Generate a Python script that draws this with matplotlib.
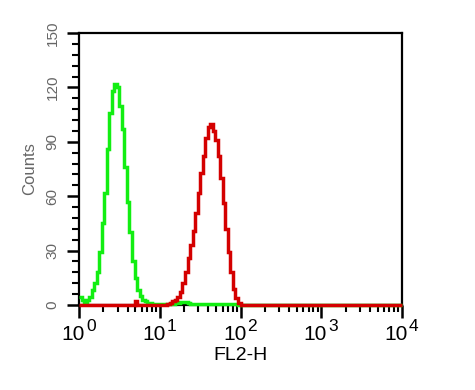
"""
Flow cytometry histogram overlay: isotype control (green) vs stained (red), FL2-H.
"""

import numpy as np
import matplotlib.pyplot as plt
import matplotlib.ticker as mticker

# ---------------------------------------------------------------------------
# Data (128 log channels over 4 decades)
# ---------------------------------------------------------------------------

N_CHANNELS = 128
LOG_RANGE = (0, 4)

green_counts = [
    4.6, 3, 1.8, 3, 4.6, 8, 12, 18, 29, 45,
    62, 86, 106, 118, 122, 120, 110, 97, 76, 57,
    40, 24, 15, 8, 5, 3, 2, 1, 1, 0.8,
    0.8, 0.6, 0.6, 0.6, 0.6, 0.6, 0.8, 0.8, 1, 1.2,
    1.6, 1.6, 1.4, 1, 0.8, 0.8, 0.8, 0.8, 0.8, 0.8,
    0.8, 0.8, 0.8, 0.8, 0.8, 0.8, 0.8, 0.8, 0.8, 0.8,
    0.8, 0.6, 0.4,
]

red_counts = [
    0, 0, 0, 0, 0, 0, 0, 0, 0, 0,
    0, 0, 0, 0, 0, 0, 0, 0, 0, 0,
    0, 0, 2, 0, 0, 0, 0, 0, 0, 0,
    0, 0, 0, 0, 0, 0.5, 1, 2, 3, 4.5,
    7, 12, 18, 26, 33, 41, 51, 62, 73, 82,
    92, 98, 100, 96, 91, 82, 70, 56, 42, 29,
    18, 9, 4, 1,
]

x_label = "FL2-H"
y_label = "Counts"
x_decades = [0, 1, 2, 3, 4]
y_ticks = [0, 30, 60, 90, 120, 150]

GREEN = "#12ee12"
RED = "#d40000"
GREY_TEXT = "#666666"

plt.rcParams.update({
    "font.family": "Liberation Sans",
})


def pad(counts, n=N_CHANNELS):
    out = np.zeros(n)
    out[:len(counts)] = counts
    return out


edges = 10 ** np.linspace(LOG_RANGE[0], LOG_RANGE[1], N_CHANNELS + 1)

fig = plt.figure(figsize=(4.75, 3.9), dpi=100)
ax = fig.add_axes([79 / 475, 85 / 390, 323 / 475, 272 / 390])

ax.stairs(pad(green_counts), edges, color=GREEN, linewidth=2.5,
          baseline=None, zorder=3, clip_on=False)
ax.stairs(pad(red_counts), edges, color=RED, linewidth=2.5,
          baseline=None, zorder=4, clip_on=False)

ax.set_xscale("log")
ax.set_xlim(edges[0], edges[-1])
ax.set_ylim(0, 150)

# x axis: decades with full log minor ticks, labels drawn by hand
# so the exponent can be nearly full size like the original
ax.set_xticks([10.0 ** k for k in x_decades])
ax.xaxis.set_minor_locator(mticker.LogLocator(base=10, subs=np.arange(2, 10), numticks=20))
ax.xaxis.set_minor_formatter(mticker.NullFormatter())
ax.set_xticklabels([])
for k in x_decades:
    ax.annotate("10", xy=(10.0 ** k, 0), xycoords=("data", "axes fraction"),
                xytext=(4.2, -25.5), textcoords="offset points",
                ha="right", va="baseline", fontsize=15, annotation_clip=False)
    ax.annotate(str(k), xy=(10.0 ** k, 0), xycoords=("data", "axes fraction"),
                xytext=(5.0, -18.6), textcoords="offset points",
                ha="left", va="baseline", fontsize=12.5, annotation_clip=False)

# y axis: rotated labels, minor ticks every 6
ax.set_yticks(y_ticks)
ax.yaxis.set_minor_locator(mticker.MultipleLocator(6))
ax.set_yticklabels([str(t) for t in y_ticks], rotation=90, va="center",
                   fontsize=11, color=GREY_TEXT)

ax.tick_params(axis="both", which="major", length=9, width=1.8, direction="out")
ax.tick_params(axis="both", which="minor", length=5, width=1.5, direction="out")
ax.tick_params(axis="y", pad=5)

for sp in ax.spines.values():
    sp.set_linewidth(1.6)
    sp.set_color("black")

ax.set_xlabel(x_label, fontsize=14, va="top")
ax.xaxis.set_label_coords(0.5, -0.155)
ax.set_ylabel(y_label, fontsize=12, color=GREY_TEXT, labelpad=6)

fig.savefig("out.png", dpi=100)
